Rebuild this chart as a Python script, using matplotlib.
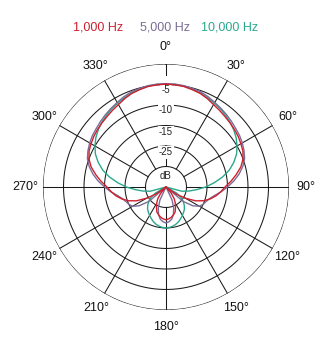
import numpy as np
import matplotlib
matplotlib.use("Agg")
import matplotlib.pyplot as plt

plt.rcParams['font.family'] = ['Liberation Sans', 'DejaVu Sans']

# polar response (dB, one half; the pattern is symmetric)
angles = [0, 5, 10, 15, 20, 25, 30, 35, 40, 45, 50, 55, 60, 65, 70, 75, 80, 85, 90,
          95, 100, 105, 110, 115, 120, 125, 130, 135, 140, 145, 150, 155, 160, 165, 170, 175, 180]
db_1k = [-4.9, -5.0, -5.1, -5.4, -5.7, -6.2, -6.8, -7.2, -7.6, -7.9, -8.2, -8.5, -8.9, -9.3, -10.0,
         -11.1, -12.6, -14.1, -15.6, -16.6, -17.6, -18.8, -20.2, -22.0, -24.5, -27.0, -30.0, -30.0,
         -28.0, -26.5, -25.5, -24.5, -23.5, -23.0, -22.5, -22.2, -22.0]
db_5k = [-4.8, -4.8, -4.9, -5.1, -5.3, -5.7, -6.2, -6.6, -7.0, -7.4, -7.8, -8.1, -8.5, -9.0, -9.6,
         -10.6, -11.9, -13.4, -15.0, -16.5, -18.0, -19.0, -19.6, -20.0, -20.6, -22.0, -24.5, -30.0,
         -30.0, -30.0, -30.0, -26.5, -24.5, -23.0, -22.0, -21.5, -21.2]
db_10k = [-4.9, -4.9, -5.0, -5.3, -5.6, -6.0, -6.4, -6.8, -7.3, -7.8, -8.4, -9.1, -10.0, -11.0, -12.4,
          -14.0, -16.0, -18.2, -20.3, -22.5, -24.3, -26.0, -30.0, -30.0, -27.0, -25.5, -24.5, -23.7,
          -23.0, -22.5, -22.0, -21.5, -21.0, -20.6, -20.3, -20.1, -20.0]
series_labels = ["1,000 Hz", "5,000 Hz", "10,000 Hz"]
series_colors = ["#d01f2e", "#7b6d97", "#2aa98c"]

ring_levels = [-25, -20, -15, -10, -5, 0]
ring_labels = ["dB", "-25", "-15", "-10", "-5"]
ring_label_pos = [-27.3, -21.5, -16.6, -11.2, -6.3]
spoke_angles = list(range(0, 360, 30))

fig = plt.figure(figsize=(3.29, 3.5), dpi=100)
ax = fig.add_axes([0.1307, 0.1143, 0.7477, 0.7029], projection="polar")
ax.set_theta_zero_location("N")
ax.set_theta_direction(-1)
ax.set_ylim(-30, 0)
ax.set_xticks([])
ax.set_yticks([])
ax.grid(False)
ax.spines["polar"].set_visible(False)

grid_col = "#1a1a1a"
circ = np.linspace(0, 2 * np.pi, 400)
for lv in ring_levels:
    ax.plot(circ, np.full_like(circ, lv), color=grid_col, lw=0.75, zorder=1)
for a in spoke_angles:
    t = np.deg2rad(a)
    if a == 0:
        ax.plot([t, t], [-2.7, 0], color=grid_col, lw=0.75, zorder=1)
        ax.plot([t, t], [-25, -23], color=grid_col, lw=0.75, zorder=1)
    else:
        ax.plot([t, t], [-25, 0], color=grid_col, lw=0.75, zorder=1)

for lab, pos in zip(ring_labels, ring_label_pos):
    ax.text(0, pos, lab, ha="center", va="center", fontsize=7, color="#222222",
            bbox=dict(boxstyle="square,pad=0.15", fc="white", ec="none"), zorder=2)

for a in spoke_angles:
    ax.text(np.deg2rad(a), 4.2, f"{a}°", ha="center", va="center", fontsize=9,
            color="#111111", clip_on=False)

# full 360 degree traces by mirroring the half pattern
half = np.array(angles, dtype=float)
theta_full = np.deg2rad(np.concatenate([half, 360 - half[::-1][1:]]))
for vals, col in zip([db_10k, db_5k, db_1k], series_colors[::-1]):
    v = np.array(vals)
    r_full = np.concatenate([v, v[::-1][1:]])
    ax.plot(theta_full, r_full, color=col, lw=1.0, zorder=3)

xs = [98, 165, 230]
for lab, col, x in zip(series_labels, series_colors, xs):
    fig.text(x / 329, 1 - 27 / 350, lab, color=col, fontsize=9, ha="center", va="center")

fig.savefig("out.png", dpi=100)
